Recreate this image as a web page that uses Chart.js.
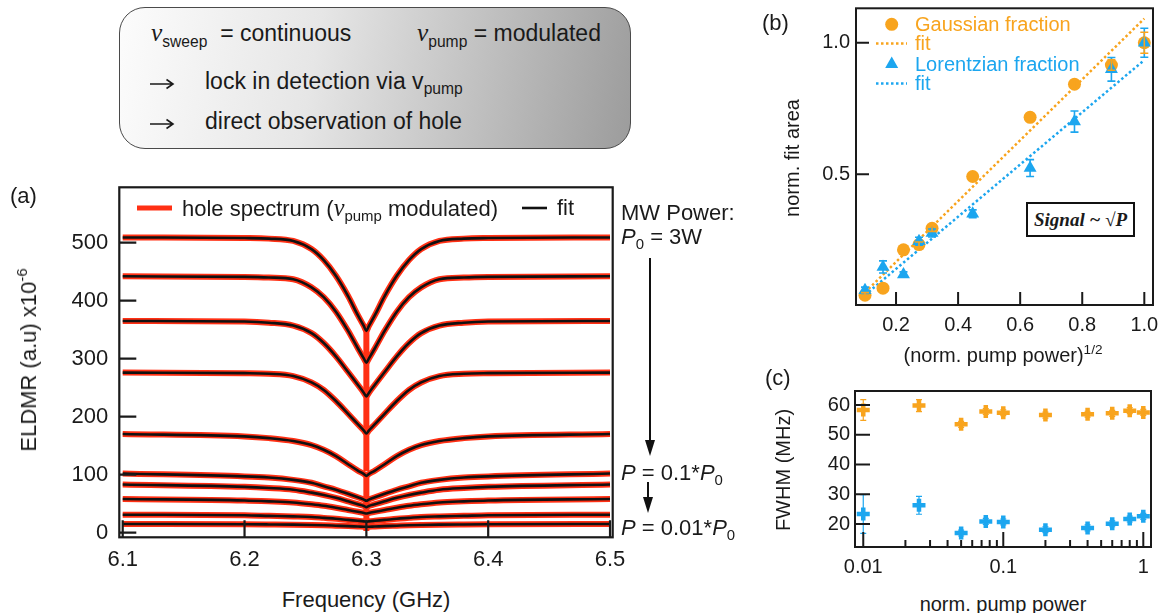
<!DOCTYPE html>
<html>
<head>
<meta charset="utf-8">
<title>ELDMR hole spectra</title>
<script src="https://cdn.jsdelivr.net/npm/chart.js@4.4.1/dist/chart.umd.min.js"></script>
<style>
  html, body { margin: 0; padding: 0; background: #fff; }
  body { position: relative; width: 1165px; height: 613px; overflow: hidden;
         font-family: 'Liberation Sans', Arial, Helvetica, sans-serif; color: #1a1a1a; }
  canvas { position: absolute; }
  .t { position: absolute; white-space: nowrap; line-height: 1; transform: translateY(-50%); }
  .ctr { position: absolute; white-space: nowrap; line-height: 1; transform: translate(-50%, -50%); }
  .rot { position: absolute; white-space: nowrap; line-height: 1; transform: translate(-50%, -50%) rotate(-90deg); }
  .nu { font-family: 'Liberation Serif', 'DejaVu Serif', serif; font-style: italic; font-size: 1.1em; }
  sub, sup { font-size: 0.68em; line-height: 0; }
  sub { vertical-align: -0.35em; }
  sup { vertical-align: 0.6em; }
  .f23 { font-size: 23px; } .f22 { font-size: 22px; } .f20 { font-size: 20px; }
  #box { position: absolute; left: 119px; top: 7px; width: 510px; height: 140px;
         border: 1.5px solid #4a4a4a; border-radius: 26px;
         background: linear-gradient(100deg, #fcfcfc 0%, #e6e6e6 38%, #9c9c9c 100%); }
  #sig { position: absolute; left: 1026px; top: 202px; width: 105px; height: 31px;
         border: 2.5px solid #111; background: #fff;
         font-family: 'Liberation Serif', 'DejaVu Serif', serif; font-weight: bold; font-style: italic;
         font-size: 19px; display: flex; align-items: center; justify-content: center; }
  svg { position: absolute; left: 0; top: 0; }
</style>
</head>
<body>

<div id="box"></div>

<canvas id="spectra" width="640" height="400" style="left:0;top:180px"></canvas>
<canvas id="area" width="425" height="345" style="left:740px;top:0"></canvas>
<canvas id="fwhm" width="425" height="215" style="left:740px;top:370px"></canvas>

<!-- text box above panel (a) -->
<div class="t f23" style="left:151px;top:33px"><span class="nu">ν</span><sub>sweep</sub>&nbsp; = continuous</div>
<div class="t f23" style="left:417px;top:33px"><span class="nu">ν</span><sub>pump</sub> = modulated</div>
<div class="t f23" style="left:205px;top:81px">lock in detection via v<sub>pump</sub></div>
<div class="t f23" style="left:205px;top:121px">direct observation of hole</div>

<!-- panel (a) labels -->
<div class="t f22" style="left:10px;top:196px">(a)</div>
<div class="t f22" style="left:182px;top:208px">hole spectrum (<span class="nu">ν</span><sub>pump</sub> modulated)</div>
<div class="t f22" style="left:557px;top:208px">fit</div>
<div class="rot f22" style="left:29px;top:360px">ELDMR (a.u) x10<sup>-6</sup></div>
<div class="ctr f22" style="left:366px;top:600px">Frequency (GHz)</div>
<div class="t f22" style="left:621px;top:213px">MW Power:</div>
<div class="t f22" style="left:621px;top:237px"><i>P</i><sub>0</sub> = 3W</div>
<div class="t f22" style="left:621px;top:473px"><i>P</i> = 0.1*<i>P</i><sub>0</sub></div>
<div class="t f22" style="left:621px;top:528px"><i>P</i> = 0.01*<i>P</i><sub>0</sub></div>

<!-- panel (b) labels -->
<div class="t f22" style="left:762px;top:23px">(b)</div>
<div class="t f20" style="left:915px;top:24px;color:#f8a41e">Gaussian fraction</div>
<div class="t f20" style="left:915px;top:43px;color:#f8a41e">fit</div>
<div class="t f20" style="left:915px;top:64px;color:#1ca6ef">Lorentzian fraction</div>
<div class="t f20" style="left:915px;top:83px;color:#1ca6ef">fit</div>
<div id="sig">Signal ~ √P</div>
<div class="rot f20" style="left:792px;top:158px">norm. fit area</div>
<div class="ctr f20" style="left:1003px;top:355px">(norm. pump power)<sup>1/2</sup></div>

<!-- panel (c) labels -->
<div class="t f22" style="left:765px;top:378px">(c)</div>
<div class="rot f20" style="left:783px;top:470px">FWHM (MHz)</div>
<div class="ctr f20" style="left:1003px;top:604px">norm. pump power</div>

<svg width="1165" height="613">
  <!-- arrows in the text box -->
  <path d="M150 84 H173 M166.5 79.5 L173 84 L166.5 88.5" stroke="#1a1a1a" stroke-width="1.6" fill="none"/>
  <path d="M150 124 H173 M166.5 119.5 L173 124 L166.5 128.5" stroke="#1a1a1a" stroke-width="1.6" fill="none"/>
  <!-- legend (a) -->
  <line x1="137" y1="208" x2="172" y2="208" stroke="#ff3014" stroke-width="5"/>
  <line x1="522" y1="208" x2="547" y2="208" stroke="#111" stroke-width="2.6"/>
  <!-- power arrows -->
  <line x1="650" y1="258" x2="650" y2="442" stroke="#111" stroke-width="2"/>
  <polygon points="650,456 645,440 655,440" fill="#111"/>
  <line x1="648" y1="482" x2="648" y2="499" stroke="#111" stroke-width="2"/>
  <polygon points="648,513 643,497 653,497" fill="#111"/>
  <!-- legend (b) -->
  <circle cx="891.7" cy="24.3" r="6.5" fill="#f8a41e"/>
  <line x1="876" y1="43.5" x2="907" y2="43.5" stroke="#f8a41e" stroke-width="2.5" stroke-dasharray="2.5 2.5"/>
  <polygon points="891.7,56.5 885.2,68 898.2,68" fill="#1ca6ef"/>
  <line x1="876" y1="83.5" x2="907" y2="83.5" stroke="#1ca6ef" stroke-width="2.5" stroke-dasharray="2.5 2.5"/>
</svg>

<script>
// ---- (a) hole spectra: frequency grid (GHz) and ELDMR fits (x10^-6), P0 = 3 W down to 0.01*P0
const freqGHz = [6.10, 6.20, 6.22, 6.24, 6.255, 6.265, 6.275, 6.285, 6.293, 6.298, 6.30,
                 6.302, 6.307, 6.315, 6.325, 6.335, 6.345, 6.36, 6.38, 6.40, 6.50];

const fitP100 = [509, 508, 507, 503, 489, 470, 443, 408, 375, 356, 348, 356, 375, 408, 443, 470, 489, 503, 507, 508, 509];
const fitP080 = [442, 441, 440, 437, 423, 406, 381, 348, 318, 300, 293, 300, 318, 348, 381, 406, 423, 437, 440, 441, 442];
const fitP060 = [365, 364, 362, 357, 344, 327, 304, 277, 255, 241, 235, 241, 255, 277, 304, 327, 344, 357, 362, 364, 365];
const fitP040 = [276, 275, 274, 270, 259, 246, 227, 205, 187, 176, 171, 176, 187, 205, 227, 246, 259, 270, 274, 275, 276];
const fitP020 = [170, 166, 163, 158, 151, 143, 132, 118, 107, 101, 98, 101, 107, 118, 132, 143, 151, 158, 163, 166, 170];
const fitP010 = [102, 97, 95, 91, 86, 80, 74, 67, 61, 57, 55, 57, 61, 67, 74, 80, 86, 91, 95, 97, 102];
const fitP0075 = [83, 79, 77, 74, 69, 65, 60, 54, 49, 46, 44, 46, 49, 54, 60, 65, 69, 74, 77, 79, 83];
const fitP005 = [58, 55.5, 54, 52, 49, 46.5, 43, 39, 36, 34, 33, 34, 36, 39, 43, 46.5, 49, 52, 54, 55.5, 58];
const fitP0025 = [31, 30, 29, 28, 27, 25.5, 24, 22, 20.5, 19.5, 19, 19.5, 20.5, 22, 24, 25.5, 27, 28, 29, 30, 31];
const fitP001 = [15, 14.5, 14.2, 13.8, 13.2, 12.7, 12, 11.3, 10.6, 10.2, 10, 10.2, 10.6, 11.3, 12, 12.7, 13.2, 13.8, 14.2, 14.5, 15];

// narrow hole at the pump frequency in the measured spectra
const holeFreq = 6.30;
const holeFrom = [348, 293, 235, 171, 98, 55, 44, 33, 19, 10];
const holeTo = [293, 235, 171, 106, 55, 44, 33, 19, 10, 3];

const freqTicks = [6.1, 6.2, 6.3, 6.4, 6.5];
const eldmrTicks = [0, 100, 200, 300, 400, 500];

// ---- (b) normalised fit areas vs sqrt of pump power
const sqrtPower = [0.1, 0.158, 0.224, 0.274, 0.316, 0.447, 0.632, 0.775, 0.894, 1.0];
const gaussArea = [0.039, 0.066, 0.212, 0.232, 0.294, 0.491, 0.716, 0.842, 0.915, 1.0];
const gaussAreaErr = [0.01, 0.01, 0.01, 0.01, 0.012, 0.012, 0.015, 0.015, 0.02, 0.04];
const lorentzArea = [0.058, 0.147, 0.118, 0.245, 0.276, 0.349, 0.523, 0.70, 0.899, 1.0];
const lorentzAreaErr = [0.012, 0.023, 0.01, 0.015, 0.015, 0.015, 0.032, 0.04, 0.045, 0.055];
const fitEndsX = [0.1, 1.0];
const gaussFitY = [0.05, 1.092];
const lorentzFitY = [0.04, 0.934];

const sqrtPowerTicks = [0.2, 0.4, 0.6, 0.8, 1.0];
const areaTicks = [0.5, 1.0];

// ---- (c) linewidths vs pump power
const pumpPower = [0.01, 0.025, 0.05, 0.075, 0.1, 0.2, 0.4, 0.6, 0.8, 1.0];
const gaussFwhm = [58.3, 59.8, 53.5, 57.8, 57.4, 56.6, 56.9, 57.2, 58.1, 57.5];
const gaussFwhmErr = [3.5, 2.0, 1.0, 1.0, 1.0, 1.0, 1.0, 1.0, 1.0, 1.0];
const lorentzFwhm = [23.4, 26.3, 17.0, 20.9, 20.7, 18.1, 18.7, 20.1, 21.7, 22.6];
const lorentzFwhmErr = [6.5, 3.0, 1.0, 1.0, 1.0, 1.0, 1.0, 1.0, 1.0, 1.0];

const powerTicks = [0.01, 0.1, 1];
const fwhmTicks = [20, 30, 40, 50, 60];

const FONT = "'Liberation Sans', Arial, Helvetica, sans-serif";
const RED = '#ff3014';
const ORANGE = '#f8a41e';
const BLUE = '#1ca6ef';

const xy = (xs, ys) => xs.map((x, i) => ({ x, y: ys[i] }));

// frame around the plot area plus ticks pointing inwards
const frameTicks = {
  id: 'frame',
  afterDatasetsDraw(chart, args, o) {
    const { ctx, chartArea: a } = chart;
    const xs = chart.scales.x, ys = chart.scales.y;
    ctx.save();
    ctx.strokeStyle = '#1a1a1a';
    ctx.lineWidth = o.lineWidth;
    ctx.beginPath();
    if (o.logX) {
      // decade ticks long, 2..9 short
      for (let e = -2; e <= 0; e++) {
        for (let k = 1; k <= 9; k++) {
          const v = k * Math.pow(10, e);
          if (v < xs.min || v > xs.max) continue;
          const px = xs.getPixelForValue(v);
          ctx.moveTo(px, a.bottom);
          ctx.lineTo(px, a.bottom - (k === 1 ? o.xLen : o.xMinorLen));
        }
      }
    } else {
      xs.ticks.forEach(t => {
        const px = xs.getPixelForValue(t.value);
        ctx.moveTo(px, a.bottom);
        ctx.lineTo(px, a.bottom - o.xLen);
      });
    }
    ys.ticks.forEach(t => {
      const py = ys.getPixelForValue(t.value);
      ctx.moveTo(a.left, py);
      ctx.lineTo(a.left + o.yLen, py);
    });
    ctx.stroke();
    ctx.strokeRect(a.left, a.top, a.right - a.left, a.bottom - a.top);
    ctx.restore();
  }
};

// vertical error bars with caps, taken from dataset.errors
const errorBars = {
  id: 'errorBars',
  afterDatasetsDraw(chart) {
    const { ctx } = chart;
    const ys = chart.scales.y;
    chart.data.datasets.forEach((ds, i) => {
      if (!ds.errors) return;
      const meta = chart.getDatasetMeta(i);
      ctx.save();
      ctx.strokeStyle = ds.pointBackgroundColor || ds.pointBorderColor;
      ctx.lineWidth = ds.errWidth;
      ctx.beginPath();
      meta.data.forEach((pt, j) => {
        const v = ds.data[j].y, e = ds.errors[j];
        const top = ys.getPixelForValue(v + e), bot = ys.getPixelForValue(v - e);
        ctx.moveTo(pt.x, top); ctx.lineTo(pt.x, bot);
        ctx.moveTo(pt.x - ds.errCap, top); ctx.lineTo(pt.x + ds.errCap, top);
        ctx.moveTo(pt.x - ds.errCap, bot); ctx.lineTo(pt.x + ds.errCap, bot);
      });
      ctx.stroke();
      ctx.restore();
    });
  }
};

function axis(type, min, max, opts) {
  return {
    type, min, max,
    grid: { display: false, drawTicks: false },
    border: { display: false },
    ticks: {
      autoSkip: false, maxRotation: 0,
      padding: opts.pad, color: '#1a1a1a',
      font: { family: FONT, size: opts.font },
      callback: opts.cb
    },
    afterBuildTicks(sc) {
      sc.ticks = opts.ticks.map(v => ({ value: v }));
    },
    afterFit(sc) {
      sc[opts.dim] = opts.size;
      sc.paddingLeft = sc.paddingRight = sc.paddingTop = sc.paddingBottom = 0;
    }
  };
}

const common = {
  responsive: false,
  animation: false,
  events: [],
  devicePixelRatio: 1
};

// ---- (a)
const fitCurves = [fitP100, fitP080, fitP060, fitP040, fitP020, fitP010, fitP0075, fitP005, fitP0025, fitP001];
const spectraSets = [];
fitCurves.forEach(c => spectraSets.push({
  data: xy(freqGHz, c), borderColor: RED, borderWidth: 6, pointRadius: 0,
  cubicInterpolationMode: 'monotone', order: 3
}));
const holePts = [];
holeFrom.forEach((v, i) => {
  holePts.push({ x: holeFreq, y: v }, { x: holeFreq, y: holeTo[i] }, { x: holeFreq, y: null });
});
spectraSets.push({ data: holePts, borderColor: RED, borderWidth: 6, pointRadius: 0, tension: 0, spanGaps: false, order: 2 });
fitCurves.forEach(c => spectraSets.push({
  data: xy(freqGHz, c), borderColor: '#111', borderWidth: 2.6, pointRadius: 0,
  cubicInterpolationMode: 'monotone', order: 1
}));

new Chart(document.getElementById('spectra'), {
  type: 'line',
  data: { datasets: spectraSets },
  options: Object.assign({}, common, {
    layout: { padding: { left: 0, top: 7.3, right: 27.3, bottom: 0 } },
    scales: {
      x: axis('linear', 6.0972, 6.5022, { ticks: freqTicks, pad: 9, font: 22, dim: 'height', size: 42.7, cb: v => v.toFixed(1) }),
      y: axis('linear', -8, 595.5, { ticks: eldmrTicks, pad: 11, font: 22, dim: 'width', size: 119.3, cb: v => String(v) })
    },
    plugins: { legend: { display: false }, tooltip: { enabled: false },
      frame: { lineWidth: 2.2, xLen: 17, yLen: 17 } }
  }),
  plugins: [frameTicks]
});

// ---- (b)
new Chart(document.getElementById('area'), {
  type: 'scatter',
  data: {
    datasets: [
      { data: xy(sqrtPower, lorentzArea), pointStyle: 'triangle', pointRadius: 7.5, pointBorderWidth: 0,
        pointBackgroundColor: BLUE, errors: lorentzAreaErr, errWidth: 1.6, errCap: 4, order: 0 },
      { data: xy(sqrtPower, gaussArea), pointStyle: 'circle', pointRadius: 6.5, pointBorderWidth: 0,
        pointBackgroundColor: ORANGE, errors: gaussAreaErr, errWidth: 1.6, errCap: 4, order: 1 },
      { data: xy(fitEndsX, gaussFitY), showLine: true, borderColor: ORANGE, borderWidth: 2.5,
        borderDash: [2.5, 2.5], pointRadius: 0, order: 2 },
      { data: xy(fitEndsX, lorentzFitY), showLine: true, borderColor: BLUE, borderWidth: 2.5,
        borderDash: [2.5, 2.5], pointRadius: 0, order: 3 }
    ]
  },
  options: Object.assign({}, common, {
    layout: { padding: { left: 0, top: 8.3, right: 12, bottom: 0 } },
    scales: {
      x: axis('linear', 0.071, 1.028, { ticks: sqrtPowerTicks, pad: 8, font: 20, dim: 'height', size: 40, cb: v => v.toFixed(1) }),
      y: axis('linear', 0.002, 1.131, { ticks: areaTicks, pad: 6, font: 20, dim: 'width', size: 116, cb: v => v.toFixed(1) })
    },
    plugins: { legend: { display: false }, tooltip: { enabled: false },
      frame: { lineWidth: 2, xLen: 13, yLen: 13 } }
  }),
  plugins: [errorBars, frameTicks]
});

// ---- (c)
new Chart(document.getElementById('fwhm'), {
  type: 'scatter',
  data: {
    datasets: [
      { data: xy(pumpPower, gaussFwhm), pointStyle: 'cross', pointRadius: 6.5, pointBorderWidth: 4.5,
        pointBorderColor: ORANGE, errors: gaussFwhmErr, errWidth: 1.2, errCap: 3 },
      { data: xy(pumpPower, lorentzFwhm), pointStyle: 'cross', pointRadius: 6.5, pointBorderWidth: 4.5,
        pointBorderColor: BLUE, errors: lorentzFwhmErr, errWidth: 1.2, errCap: 3 }
    ]
  },
  options: Object.assign({}, common, {
    layout: { padding: { left: 0, top: 21, right: 14, bottom: 0 } },
    scales: {
      x: axis('logarithmic', 0.00873, 1.135, { ticks: powerTicks, pad: 8, font: 20, dim: 'height', size: 38, cb: v => String(v) }),
      y: axis('linear', 12.3, 64.7, { ticks: fwhmTicks, pad: 5, font: 20, dim: 'width', size: 115, cb: v => String(v) })
    },
    plugins: { legend: { display: false }, tooltip: { enabled: false },
      frame: { lineWidth: 2, logX: true, xLen: 15, xMinorLen: 7, yLen: 15 } }
  }),
  plugins: [errorBars, frameTicks]
});
</script>
</body>
</html>
